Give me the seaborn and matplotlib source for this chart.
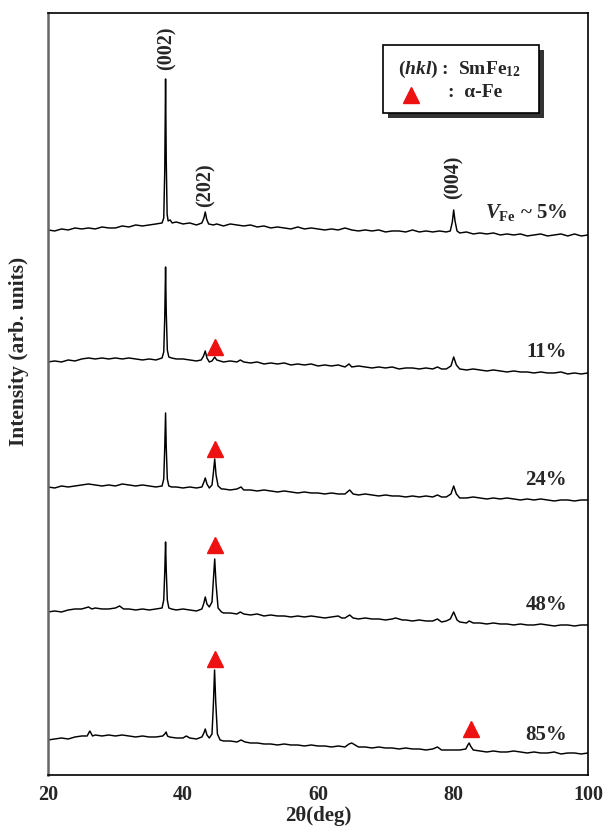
import pandas as pd
import matplotlib.pyplot as plt
import seaborn as sns
from matplotlib.patches import Rectangle

# XRD patterns: (2theta, intensity above the trace's own baseline)
pattern_5 = [(20, 0), (21, -1), (22, 1), (23, 0), (24, 2), (25, 1), (26, 2), (27, 1), (28, 3), (29, 2),
             (30, 2), (31, 4), (32, 3), (33, 5), (34, 4), (35, 5), (36, 6), (36.9, 7), (37.15, 12), (37.3, 60),
             (37.42, 151), (37.52, 70), (37.65, 16), (37.8, 9), (38.1, 10), (38.4, 7), (39, 8), (40, 6), (41, 7),
             (42, 5), (42.8, 7), (43.1, 12), (43.3, 18), (43.5, 11), (43.8, 6), (44.5, 5), (45, 6), (46, 4),
             (47, 6), (48, 5), (49, 4), (50, 5), (51, 3), (52, 4), (53, 2), (54, 3), (55, 2), (56, 1), (57, 3),
             (58, 1), (59, 2), (60, 1), (61, 0), (62, 1), (63, 0), (64, 2), (65, 0), (66, -1), (67, 0), (68, -1),
             (69, 0), (70, -2), (71, -1), (72, -1), (73, -2), (74, 0), (75, -2), (76, -1), (77, -2), (78, -1),
             (79, -2), (79.6, -1), (79.9, 8), (80.1, 20), (80.3, 9), (80.6, -1), (81, -3), (82, -2), (83, -4),
             (84, -3), (85, -4), (86, -3), (87, -5), (88, -4), (89, -5), (90, -4), (91, -6), (92, -5), (93, -4),
             (94, -6), (95, -5), (96, -4), (97, -6), (98, -4), (99, -6), (100, -5)]

pattern_11 = [(20, 0), (21, 1), (22, 0), (23, 2), (24, 1), (25, 3), (26, 4), (27, 3), (28, 4), (29, 3),
              (30, 4), (31, 3), (32, 4), (33, 3), (34, 2), (35, 3), (36, 2), (36.9, 4), (37.15, 10), (37.3, 45),
              (37.42, 95), (37.52, 50), (37.68, 12), (37.9, 5), (38.3, 4), (39, 3), (40, 3), (41, 2), (42, 1),
              (42.7, 2), (43.05, 6), (43.3, 11), (43.55, 4), (43.9, 0), (44.3, 1), (44.7, 5), (45.0, 2),
              (45.5, 1), (46, 0), (47, 1), (48, 0), (48.5, 2), (49, 0), (50, -1), (51, 0), (52, -2), (53, -1),
              (54, -2), (55, -1), (56, -3), (57, -2), (58, -3), (59, -2), (60, -4), (61, -3), (62, -4), (63, -3),
              (64, -5), (64.6, -2), (65, -5), (66, -4), (67, -5), (68, -6), (69, -5), (70, -6), (71, -5), (72, -7),
              (73, -6), (74, -6), (75, -7), (76, -6), (77, -7), (77.7, -5), (78.3, -7), (79, -7), (79.7, -4),
              (80.1, 5), (80.5, -3), (81, -7), (82, -8), (83, -7), (84, -8), (85, -9), (86, -8), (87, -9),
              (88, -10), (89, -9), (90, -10), (91, -10), (92, -11), (93, -10), (94, -11), (95, -11), (96, -10),
              (97, -12), (98, -11), (99, -12), (100, -11)]

pattern_24 = [(20, 0), (21, -1), (22, 1), (23, 0), (24, 1), (25, 2), (26, 3), (27, 2), (28, 1), (29, 2),
              (30, 1), (31, 3), (32, 2), (33, 1), (34, 2), (35, 1), (36, 0), (36.9, 1), (37.15, 8), (37.3, 40),
              (37.42, 74), (37.52, 40), (37.68, 8), (37.9, 1), (38.3, 0), (39, 0), (40, -1), (41, 0), (42, -1),
              (42.8, 0), (43.1, 5), (43.3, 9), (43.55, 3), (43.9, -1), (44.3, 2), (44.5, 14), (44.7, 28),
              (44.9, 12), (45.2, 1), (45.7, -2), (46, -2), (47, -3), (48, -2), (48.6, 0), (49, -3), (50, -3),
              (51, -4), (52, -3), (53, -4), (54, -5), (55, -4), (56, -5), (57, -6), (58, -5), (59, -6), (60, -6),
              (61, -7), (62, -6), (63, -7), (64, -7), (64.7, -3), (65.2, -7), (66, -8), (67, -7), (68, -8),
              (69, -9), (70, -8), (71, -9), (72, -9), (73, -10), (74, -9), (75, -10), (76, -9), (77, -10),
              (77.7, -8), (78.3, -10), (79, -10), (79.7, -7), (80.1, 1), (80.5, -7), (81, -11), (82, -11),
              (83, -10), (84, -11), (85, -12), (86, -11), (87, -12), (88, -11), (89, -12), (90, -13), (91, -12),
              (92, -13), (93, -12), (94, -13), (95, -14), (96, -13), (97, -13), (98, -14), (99, -13), (100, -13)]

pattern_48 = [(20, 0), (21, 1), (22, 0), (23, 2), (24, 3), (25, 3), (26, 5), (26.5, 3), (27, 4), (28, 3),
              (29, 3), (30, 4), (30.6, 6), (31.2, 3), (32, 3), (33, 2), (34, 3), (35, 2), (36, 3), (36.9, 4),
              (37.15, 12), (37.3, 40), (37.42, 70), (37.52, 42), (37.68, 12), (37.9, 4), (38.3, 3), (39, 2),
              (40, 3), (41, 2), (42, 1), (42.8, 3), (43.1, 9), (43.3, 15), (43.55, 8), (43.9, 5), (44.3, 10),
              (44.5, 32), (44.7, 53), (44.9, 28), (45.2, 4), (45.7, 0), (46, -1), (47, -1), (48, -2), (48.5, 0),
              (49, -2), (50, -3), (51, -2), (52, -4), (53, -3), (54, -4), (55, -4), (56, -5), (57, -4), (58, -5),
              (59, -4), (60, -5), (61, -6), (62, -5), (63, -4), (63.5, -6), (64, -6), (64.7, -3), (65.2, -6),
              (66, -7), (67, -6), (68, -7), (69, -7), (70, -8), (71, -7), (71.5, -6), (72.5, -8), (73, -8),
              (74, -9), (75, -8), (76, -9), (77, -9), (77.7, -7), (78.3, -10), (79, -9), (79.6, -7), (80.1, 0),
              (80.6, -8), (81, -10), (82, -11), (82.4, -9), (83, -11), (84, -11), (85, -12), (86, -11), (87, -12),
              (88, -12), (89, -13), (90, -12), (91, -13), (92, -13), (93, -12), (94, -13), (95, -14), (96, -13),
              (97, -13), (98, -14), (99, -13), (100, -13)]

pattern_85 = [(20, 0), (21, 1), (22, 2), (23, 1), (24, 3), (25, 4), (25.8, 4), (26.2, 9), (26.6, 4), (27, 5),
              (28, 4), (29, 5), (30, 4), (31, 5), (32, 4), (33, 3), (34, 4), (35, 3), (36, 3), (37, 4), (37.3, 6),
              (37.5, 8), (37.7, 4), (38, 3), (39, 2), (40, 2), (40.5, 4), (41, 2), (42, 1), (42.8, 3), (43.1, 7),
              (43.3, 11), (43.55, 5), (43.9, 2), (44.3, 6), (44.5, 35), (44.68, 70), (44.85, 38), (45.1, 6),
              (45.5, 0), (46, -1), (47, -1), (48, -2), (48.6, 0), (49.2, -2), (50, -3), (51, -3), (52, -4),
              (53, -4), (54, -5), (55, -4), (56, -5), (57, -5), (58, -6), (59, -5), (60, -6), (61, -6), (62, -7),
              (63, -6), (64, -7), (64.6, -4), (65, -3), (65.5, -5), (66, -7), (67, -7), (68, -8), (69, -7),
              (70, -8), (71, -8), (72, -9), (73, -8), (74, -9), (75, -9), (76, -10), (77, -9), (77.7, -7),
              (78.3, -10), (79, -10), (80, -10), (81, -10), (81.9, -9), (82.2, -5), (82.4, -3), (82.6, -6),
              (83, -10), (84, -11), (85, -12), (86, -11), (87, -12), (88, -12), (89, -11), (90, -12), (91, -13),
              (92, -12), (93, -13), (94, -13), (95, -12), (96, -14), (97, -13), (98, -13), (99, -14), (100, -13)]

patterns = [pattern_5, pattern_11, pattern_24, pattern_48, pattern_85]
offsets = [545, 413, 288, 163, 35]
vfe_labels = [r'$\mathit{V}_{\mathrm{Fe}}$ ~ 5%', '11%', '24%', '48%', '85%']
vfe_label_lift = [17, 10, 7, 7, 5]

# alpha-Fe markers: (pattern index, 2theta, height above baseline)
alpha_fe_marks = [(1, 44.8, 15), (2, 44.8, 38), (3, 44.8, 67), (4, 44.8, 81), (4, 82.6, 11)]

# SmFe12 reflections labelled on the top pattern: (label, 2theta, height above baseline)
hkl_labels = [('(002)', 37.6, 160), ('(202)', 43.3, 23), ('(004)', 80.1, 31)]


sns.set_style('white')
plt.rcParams['font.family'] = ['Liberation Serif', 'DejaVu Serif']
plt.rcParams['font.weight'] = 'bold'
plt.rcParams['mathtext.fontset'] = 'custom'
plt.rcParams['mathtext.rm'] = 'Liberation Serif:bold'
plt.rcParams['mathtext.it'] = 'Liberation Serif:italic:bold'
plt.rcParams['mathtext.bf'] = 'Liberation Serif:bold'

fig = plt.figure(figsize=(6.05, 8.31), dpi=100)
ax = fig.add_axes([0.0793, 0.0674, 0.8926, 0.917])

for pat, off in zip(patterns, offsets):
    df = pd.DataFrame(pat, columns=['two_theta', 'intensity'])
    df['shifted'] = df['intensity'] + off
    sns.lineplot(data=df, x='two_theta', y='shifted', color='black', lw=1.05,
                 estimator=None, sort=False, ax=ax)

for idx, x, h in alpha_fe_marks:
    ax.plot(x, offsets[idx] + h, marker='^', color='#ee1111', markersize=11, ls='none')

for lab, x, h in hkl_labels:
    ax.text(x, offsets[0] + h, lab, rotation=90, ha='center', va='bottom',
            fontsize=14.5, fontweight='bold')

for lab, off, lift in zip(vfe_labels, offsets, vfe_label_lift):
    ax.text(96.9, off + lift, lab, ha='right', va='center', fontsize=15, fontweight='bold')

# boxed key with drop shadow
ax.add_patch(Rectangle((0.629, 0.8624), 0.289, 0.089, transform=ax.transAxes,
                       facecolor='#333333', edgecolor='none', zorder=4))
ax.add_patch(Rectangle((0.620, 0.869), 0.289, 0.089, transform=ax.transAxes,
                       facecolor='white', edgecolor='black', lw=1.2, zorder=5))
ax.text(0.648, 0.9265, r'($\mathit{hkl}$) :  SmFe$_{\mathrm{12}}$', transform=ax.transAxes,
        ha='left', va='center', fontsize=14, fontweight='bold', zorder=6)
ax.plot(0.672, 0.893, transform=ax.transAxes, marker='^', color='#ee1111',
        markersize=11, ls='none', zorder=6)
ax.text(0.741, 0.896, ':  α-Fe', transform=ax.transAxes, ha='left', va='center',
        fontsize=14, fontweight='bold', zorder=6)

ax.set_xlim(20, 100)
ax.set_ylim(0, 762)
ax.set_xticks([20, 40, 60, 80, 100])
ax.set_xticks([30, 50, 70, 90], minor=True)
ax.set_yticks([])
ax.tick_params(axis='x', which='major', direction='in', length=6, width=1, pad=7, labelsize=14.5)
ax.tick_params(axis='x', which='minor', direction='in', length=4, width=1)
for lbl in ax.get_xticklabels():
    lbl.set_fontweight('bold')
ax.set_xlabel('2θ(deg)', fontsize=15, fontweight='bold', labelpad=1)
ax.set_ylabel('Intensity (arb. units)', fontsize=15.5, fontweight='bold')
ax.yaxis.set_label_coords(-0.036, 0.556)

for side in ['top', 'right', 'bottom']:
    ax.spines[side].set_color('black')
    ax.spines[side].set_linewidth(1.2)
ax.spines['left'].set_color('#666666')
ax.spines['left'].set_linewidth(1.8)

plt.savefig('out.png', dpi=100)
